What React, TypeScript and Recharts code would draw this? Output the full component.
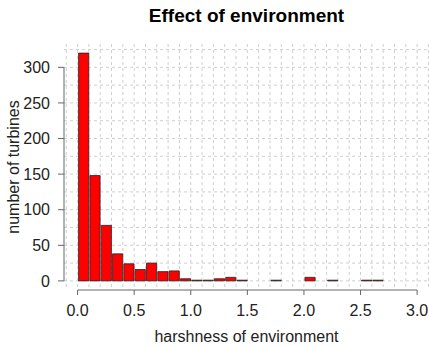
import { BarChart, Bar, XAxis, YAxis, CartesianGrid, ReferenceLine } from 'recharts';

// histogram bins of width 0.1 (bin midpoints) and turbine counts
const binMids = [
  0.05, 0.15, 0.25, 0.35, 0.45, 0.55, 0.65, 0.75, 0.85, 0.95,
  1.05, 1.15, 1.25, 1.35, 1.45, 1.55, 1.65, 1.75, 1.85, 1.95,
  2.05, 2.15, 2.25, 2.35, 2.45, 2.55, 2.65, 2.75, 2.85, 2.95,
];
const counts = [
  320, 148, 78, 38, 24, 16, 25, 13, 14, 3,
  1, 1, 3, 5, 1, 0, 0, 1, 0, 0,
  5, 0, 1, 0, 0, 1, 1, 0, 0, 0,
];
const xTicks = [0, 0.5, 1, 1.5, 2, 2.5, 3];
const yTicks = [0, 50, 100, 150, 200, 250, 300];
const gridX = [
  -0.1, 0, 0.1, 0.2, 0.3, 0.4, 0.5, 0.6, 0.7, 0.8, 0.9, 1, 1.1, 1.2, 1.3, 1.4, 1.5,
  1.6, 1.7, 1.8, 1.9, 2, 2.1, 2.2, 2.3, 2.4, 2.5, 2.6, 2.7, 2.8, 2.9, 3, 3.1,
];
const gridY = [0, 25, 50, 75, 100, 125, 150, 175, 200, 225, 250, 275, 300, 325];

const W = 429;
const H = 346;
const M = { top: 44, right: 0, bottom: 0, left: 0 };
const Y_AXIS_W = 64;
const X_AXIS_H = 56;
const X_DOMAIN: [number, number] = [-0.12, 3.105];
const Y_DOMAIN: [number, number] = [-12.8, 332.8];

const plotLeft = M.left + Y_AXIS_W;
const plotW = W - M.right - plotLeft;
const plotTop = M.top;
const plotH = H - M.bottom - X_AXIS_H - M.top;
const px = (v: number) => plotLeft + ((v - X_DOMAIN[0]) / (X_DOMAIN[1] - X_DOMAIN[0])) * plotW;
const py = (v: number) => plotTop + plotH - ((v - Y_DOMAIN[0]) / (Y_DOMAIN[1] - Y_DOMAIN[0])) * plotH;

const data = binMids.map((mid, i) => ({ mid, count: counts[i] }));

const FONT = '"Liberation Sans", Arial, sans-serif';
const AXIS_COL = '#666';

export default function App() {
  const barW = (0.1 / (X_DOMAIN[1] - X_DOMAIN[0])) * plotW;
  return (
    <div style={{ position: 'absolute', left: 0, top: 0, width: W, height: H, fontFamily: FONT, background: '#fff' }}>
      <div
        style={{
          position: 'absolute',
          left: plotLeft,
          width: plotW,
          top: 6,
          textAlign: 'center',
          fontSize: 19,
          lineHeight: '19px',
          fontWeight: 'bold',
          color: '#000',
        }}
      >
        Effect of environment
      </div>
      <BarChart width={W} height={H} data={data} margin={M} barCategoryGap={0}>
        <CartesianGrid
          stroke="#cfcfcf"
          strokeDasharray="3 3"
          horizontalPoints={gridY.map(py)}
          verticalPoints={gridX.map(px)}
        />
        <XAxis
          dataKey="mid"
          type="number"
          domain={X_DOMAIN}
          allowDataOverflow
          ticks={xTicks}
          interval={0}
          tickFormatter={(v: number) => v.toFixed(1)}
          axisLine={false}
          tickLine={{ stroke: AXIS_COL }}
          tickSize={5}
          tickMargin={10}
          height={X_AXIS_H}
          tick={{ fontSize: 16, fill: '#222', fontFamily: FONT }}
          label={{
            value: 'harshness of environment',
            position: 'insideBottom',
            offset: 4,
            style: { fontSize: 16, fill: '#222', fontFamily: FONT },
          }}
        />
        <YAxis
          type="number"
          domain={Y_DOMAIN}
          allowDataOverflow
          ticks={yTicks}
          interval={0}
          width={Y_AXIS_W}
          axisLine={false}
          tickLine={{ stroke: AXIS_COL }}
          tickSize={6}
          tickMargin={8}
          tick={{ fontSize: 16, fill: '#222', fontFamily: FONT }}
          label={{
            value: 'number of turbines',
            angle: -90,
            position: 'insideLeft',
            offset: 13,
            style: { fontSize: 16, fill: '#222', fontFamily: FONT, textAnchor: 'middle' },
          }}
        />
        <ReferenceLine
          segment={[{ x: 0, y: Y_DOMAIN[0] }, { x: 3, y: Y_DOMAIN[0] }]}
          stroke={AXIS_COL}
          ifOverflow="visible"
        />
        <ReferenceLine
          segment={[{ x: X_DOMAIN[0], y: 0 }, { x: X_DOMAIN[0], y: 300 }]}
          stroke={AXIS_COL}
          ifOverflow="visible"
        />
        <Bar
          dataKey="count"
          fill="#ff0000"
          stroke="#222"
          strokeWidth={0.8}
          barSize={barW}
          isAnimationActive={false}
        />
      </BarChart>
    </div>
  );
}
